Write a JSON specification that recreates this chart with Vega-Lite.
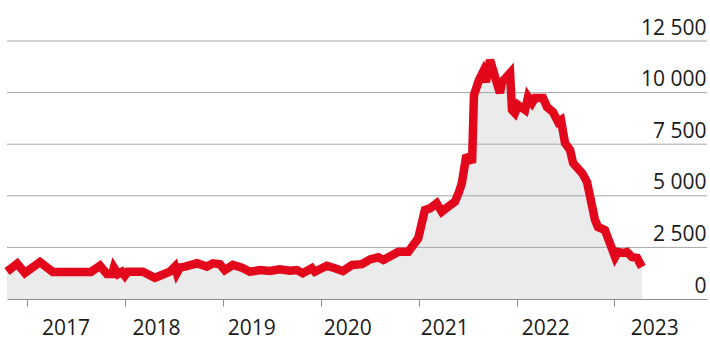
{
  "$schema": "https://vega.github.io/schema/vega-lite/v6.json",
  "width": 700,
  "height": 258,
  "autosize": {"type": "none"},
  "padding": {"left": 7, "top": 41, "right": 3, "bottom": 53},
  "background": "white",
  "config": {
    "view": {"stroke": null},
    "axis": {"labelFont": "Open Sans", "labelFontSize": 21, "labelColor": "#1a1a1a"},
    "axisY": {
      "orient": "right",
      "domain": false,
      "ticks": false,
      "tickSize": 0,
      "grid": false,
      "title": null,
      "labelAlign": "right",
      "labelBaseline": "alphabetic",
      "labelPadding": -1,
      "labelOffset": -7,
      "labelOverlap": false,
      "labelExpr": "replace(format(datum.value, ','), ',', ' ')"
    }
  },
  "datasets": {
    "series": [
      {"date": "2016-10-17", "value": 1330},
      {"date": "2016-11-24", "value": 1710},
      {"date": "2016-12-23", "value": 1260},
      {"date": "2017-02-17", "value": 1790},
      {"date": "2017-04-06", "value": 1310},
      {"date": "2017-08-26", "value": 1310},
      {"date": "2017-09-29", "value": 1610},
      {"date": "2017-10-25", "value": 1210},
      {"date": "2017-11-13", "value": 1210},
      {"date": "2017-11-20", "value": 1520},
      {"date": "2017-12-05", "value": 1210},
      {"date": "2017-12-20", "value": 1320},
      {"date": "2017-12-31", "value": 1130},
      {"date": "2018-01-11", "value": 1320},
      {"date": "2018-03-08", "value": 1320},
      {"date": "2018-04-22", "value": 1030},
      {"date": "2018-06-17", "value": 1320},
      {"date": "2018-07-06", "value": 1570},
      {"date": "2018-07-13", "value": 1260},
      {"date": "2018-07-24", "value": 1520},
      {"date": "2018-08-12", "value": 1570},
      {"date": "2018-09-26", "value": 1730},
      {"date": "2018-11-02", "value": 1570},
      {"date": "2018-11-25", "value": 1730},
      {"date": "2018-12-21", "value": 1680},
      {"date": "2019-01-08", "value": 1400},
      {"date": "2019-02-07", "value": 1650},
      {"date": "2019-03-13", "value": 1520},
      {"date": "2019-04-12", "value": 1320},
      {"date": "2019-05-19", "value": 1400},
      {"date": "2019-06-25", "value": 1360},
      {"date": "2019-08-01", "value": 1440},
      {"date": "2019-09-08", "value": 1370},
      {"date": "2019-10-04", "value": 1400},
      {"date": "2019-10-26", "value": 1250},
      {"date": "2019-11-29", "value": 1490},
      {"date": "2019-12-10", "value": 1320},
      {"date": "2020-01-24", "value": 1610},
      {"date": "2020-02-23", "value": 1490},
      {"date": "2020-03-24", "value": 1350},
      {"date": "2020-04-27", "value": 1650},
      {"date": "2020-06-03", "value": 1690},
      {"date": "2020-07-03", "value": 1920},
      {"date": "2020-08-03", "value": 2020},
      {"date": "2020-08-22", "value": 1890},
      {"date": "2020-10-17", "value": 2290},
      {"date": "2020-11-23", "value": 2290},
      {"date": "2020-12-30", "value": 2940},
      {"date": "2021-01-24", "value": 4310},
      {"date": "2021-02-12", "value": 4390},
      {"date": "2021-03-09", "value": 4640},
      {"date": "2021-03-28", "value": 4230},
      {"date": "2021-04-21", "value": 4470},
      {"date": "2021-05-16", "value": 4710},
      {"date": "2021-05-31", "value": 5180},
      {"date": "2021-06-11", "value": 5620},
      {"date": "2021-06-26", "value": 6830},
      {"date": "2021-07-08", "value": 6880},
      {"date": "2021-07-19", "value": 6590},
      {"date": "2021-07-26", "value": 9880},
      {"date": "2021-08-14", "value": 10610},
      {"date": "2021-08-29", "value": 11000},
      {"date": "2021-09-09", "value": 10510},
      {"date": "2021-09-24", "value": 11580},
      {"date": "2021-10-31", "value": 9980},
      {"date": "2021-11-08", "value": 10510},
      {"date": "2021-12-08", "value": 10950},
      {"date": "2021-12-15", "value": 9160},
      {"date": "2021-12-26", "value": 9010},
      {"date": "2022-01-07", "value": 9400},
      {"date": "2022-02-02", "value": 9160},
      {"date": "2022-02-13", "value": 9790},
      {"date": "2022-02-28", "value": 9500},
      {"date": "2022-03-11", "value": 9740},
      {"date": "2022-04-10", "value": 9740},
      {"date": "2022-04-25", "value": 9300},
      {"date": "2022-05-17", "value": 9060},
      {"date": "2022-06-05", "value": 8580},
      {"date": "2022-06-16", "value": 8670},
      {"date": "2022-07-01", "value": 7560},
      {"date": "2022-07-20", "value": 7220},
      {"date": "2022-07-31", "value": 6590},
      {"date": "2022-09-03", "value": 6100},
      {"date": "2022-09-21", "value": 5670},
      {"date": "2022-10-21", "value": 3830},
      {"date": "2022-11-01", "value": 3490},
      {"date": "2022-11-27", "value": 3340},
      {"date": "2023-01-04", "value": 2030},
      {"date": "2023-01-15", "value": 2280},
      {"date": "2023-02-03", "value": 2230},
      {"date": "2023-02-17", "value": 2280},
      {"date": "2023-03-08", "value": 2030},
      {"date": "2023-03-27", "value": 1990},
      {"date": "2023-04-14", "value": 1550}
    ],
    "grid": [
      {"v": 2500},
      {"v": 5000},
      {"v": 7500},
      {"v": 10000},
      {"v": 12500}
    ]
  },
  "layer": [
    {
      "data": {"name": "series"},
      "mark": {"type": "area", "color": "#ebebeb"},
      "encoding": {
        "x": {
          "field": "date",
          "type": "temporal",
          "scale": {"domain": [{"year": 2016, "month": 10, "date": 17, "utc": true}, {"year": 2023, "month": 12, "date": 13, "utc": true}]},
          "axis": {
            "orient": "bottom",
            "values": [
              {"year": 2017, "month": 1, "date": 1, "utc": true},
              {"year": 2018, "month": 1, "date": 1, "utc": true},
              {"year": 2019, "month": 1, "date": 1, "utc": true},
              {"year": 2020, "month": 1, "date": 1, "utc": true},
              {"year": 2021, "month": 1, "date": 1, "utc": true},
              {"year": 2022, "month": 1, "date": 1, "utc": true},
              {"year": 2023, "month": 1, "date": 1, "utc": true}
            ],
            "labels": false,
            "ticks": true,
            "tickSize": 7,
            "tickColor": "#8c8c8c",
            "domainColor": "#8c8c8c",
            "grid": false,
            "title": null,
            "zindex": 1
          }
        },
        "y": {
          "field": "value",
          "type": "quantitative",
          "scale": {"domain": [0, 12500], "nice": false},
          "axis": {"title": null, "values": [0, 2500, 5000, 7500, 10000, 12500]}
        }
      }
    },
    {
      "data": {"name": "grid"},
      "mark": {"type": "rule", "color": "#a6a6a6", "strokeWidth": 1},
      "encoding": {
        "y": {"field": "v", "type": "quantitative", "axis": {"title": null, "values": [0, 2500, 5000, 7500, 10000, 12500]}}
      }
    },
    {
      "data": {"name": "series"},
      "mark": {"type": "line", "color": "#e2071a", "strokeWidth": 8.5},
      "encoding": {
        "x": {
          "field": "date",
          "type": "temporal",
          "axis": {
            "orient": "bottom",
            "values": [
              {"year": 2017, "month": 5, "date": 23, "utc": true},
              {"year": 2018, "month": 4, "date": 26, "utc": true},
              {"year": 2019, "month": 4, "date": 17, "utc": true},
              {"year": 2020, "month": 4, "date": 9, "utc": true},
              {"year": 2021, "month": 4, "date": 6, "utc": true},
              {"year": 2022, "month": 4, "date": 18, "utc": true},
              {"year": 2023, "month": 5, "date": 30, "utc": true}
            ],
            "ticks": false,
            "tickSize": 0,
            "domain": false,
            "grid": false,
            "title": null,
            "labelPadding": 18,
            "labelBaseline": "top",
            "labelAlign": "center",
            "labelFlush": false,
            "labelOverlap": false,
            "labelExpr": "utcFormat(datum.value, '%Y')"
          }
        },
        "y": {"field": "value", "type": "quantitative", "axis": {"title": null, "values": [0, 2500, 5000, 7500, 10000, 12500]}}
      }
    }
  ],
  "resolve": {"axis": {"x": "independent"}}
}
